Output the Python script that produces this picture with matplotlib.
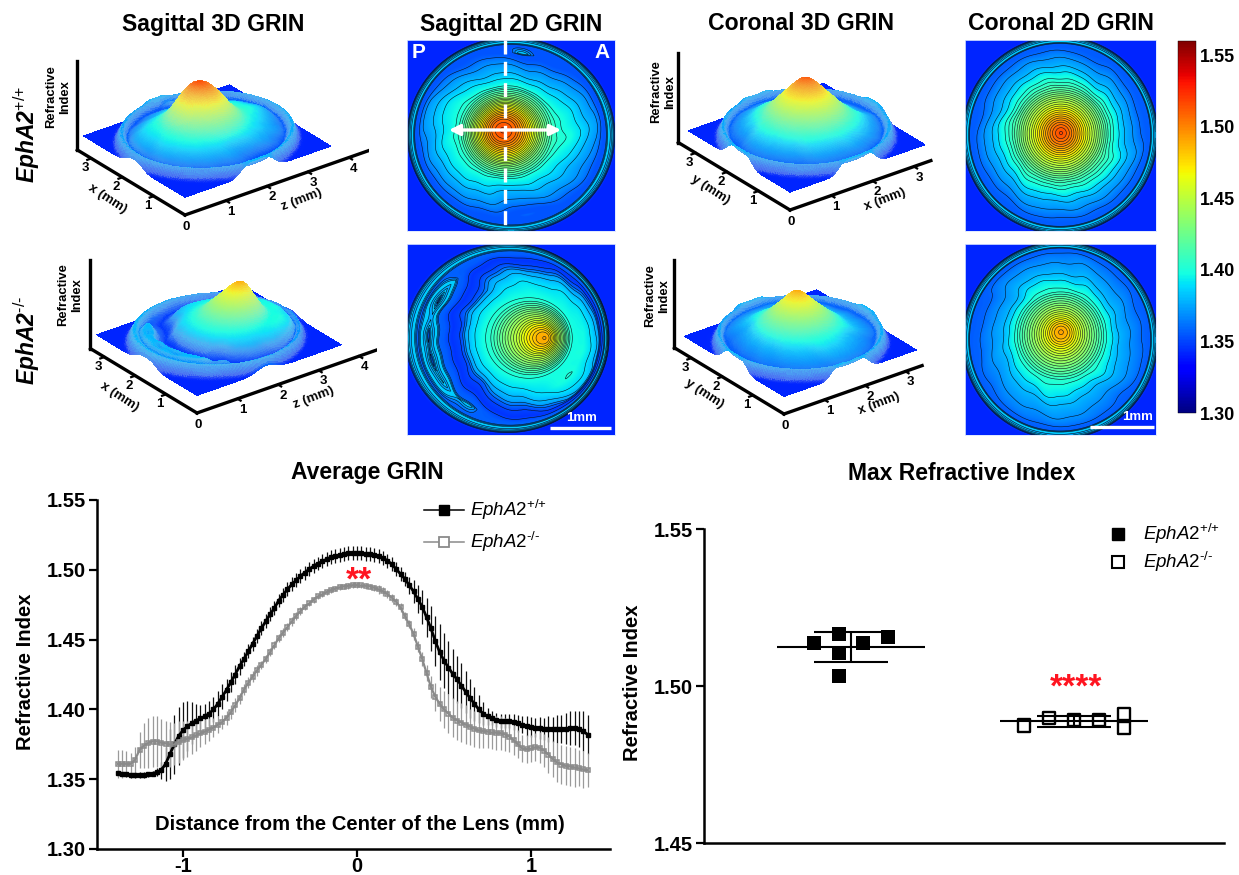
import numpy as np
import matplotlib
matplotlib.use("Agg")
import matplotlib.pyplot as plt
from matplotlib import cm, colors
from mpl_toolkits.mplot3d import proj3d

plt.rcParams['font.family'] = ['Liberation Sans', 'DejaVu Sans']
plt.rcParams['mathtext.fontset'] = 'custom'
plt.rcParams['mathtext.rm'] = 'Liberation Sans'
plt.rcParams['mathtext.it'] = 'Liberation Sans:italic'
plt.rcParams['mathtext.bf'] = 'Liberation Sans:bold'
plt.rcParams['mathtext.bfit'] = 'Liberation Sans:italic:bold'

W, H = 1239, 875

# ── average GRIN curves, one reading every 0.025 mm ───────────────────────
dist_start, dist_step = -1.375, 0.025
wt_mean = [1.3545, 1.354, 1.3535, 1.353, 1.353, 1.353, 1.3532, 1.3535, 1.354, 1.355, 1.3565, 1.361, 1.368, 1.375,
           1.381, 1.385, 1.388, 1.390, 1.392, 1.3935, 1.395, 1.397, 1.400, 1.404, 1.409, 1.414, 1.4195, 1.425,
           1.431, 1.436, 1.4415, 1.447, 1.4525, 1.458, 1.463, 1.468, 1.4725, 1.478, 1.482, 1.486, 1.4895, 1.4925,
           1.4955, 1.498, 1.5005, 1.5025, 1.5045, 1.506, 1.5075, 1.509, 1.5098, 1.5105, 1.5112, 1.5118, 1.512,
           1.512, 1.5119, 1.5115, 1.511, 1.5105, 1.5097, 1.5085, 1.5065, 1.504, 1.5005, 1.497, 1.4935, 1.489,
           1.4845, 1.479, 1.4735, 1.466, 1.458, 1.449, 1.441, 1.435, 1.430, 1.4255, 1.4215, 1.417, 1.4125, 1.408,
           1.404, 1.400, 1.397, 1.395, 1.3935, 1.3925, 1.392, 1.3918, 1.3915, 1.391, 1.390, 1.389, 1.3882, 1.3875,
           1.387, 1.3865, 1.386, 1.386, 1.3858, 1.3858, 1.386, 1.3862, 1.3866, 1.3866, 1.386, 1.3845, 1.382]
ko_mean = [1.361, 1.361, 1.361, 1.361, 1.364, 1.371, 1.374, 1.376, 1.377, 1.377, 1.376, 1.3755, 1.375, 1.375,
           1.3765, 1.378, 1.379, 1.380, 1.3815, 1.383, 1.384, 1.3855, 1.387, 1.389, 1.391, 1.394, 1.398, 1.403,
           1.408, 1.414, 1.419, 1.4235, 1.428, 1.432, 1.436, 1.441, 1.446, 1.451, 1.455, 1.459, 1.463, 1.467,
           1.4705, 1.4735, 1.476, 1.4785, 1.481, 1.4825, 1.484, 1.4855, 1.4865, 1.4875, 1.488, 1.4885, 1.489,
           1.489, 1.4888, 1.4885, 1.488, 1.487, 1.486, 1.4845, 1.4825, 1.480, 1.477, 1.473, 1.467, 1.461, 1.454,
           1.445, 1.436, 1.426, 1.416, 1.409, 1.404, 1.400, 1.397, 1.394, 1.392, 1.3905, 1.389, 1.3875, 1.386,
           1.385, 1.3845, 1.384, 1.3835, 1.3832, 1.383, 1.382, 1.3805, 1.378, 1.375, 1.372, 1.3715, 1.372, 1.373,
           1.3725, 1.3705, 1.3675, 1.3645, 1.362, 1.3605, 1.3595, 1.359, 1.3585, 1.3578, 1.357, 1.3565]
wt_sd = [.002, .002, .002, .002, .002, .002, .002, .002, .002, .003, .006, .012, .018, .021,
         .021, .020, .018, .015, .012, .010, .009, .009, .009, .009, .009, .008, .007, .007,
         .006, .005, .005, .005, .005, .005, .005, .005, .005, .005, .005, .005, .005, .005,
         .005, .005, .005, .005, .005, .005, .005, .005, .005, .005, .005, .005, .005,
         .005, .005, .005, .005, .005, .005, .005, .005, .005, .005, .005, .005, .006,
         .008, .010, .012, .014, .016, .018, .020, .020, .019, .018, .017, .016, .015, .014,
         .012, .010, .008, .006, .005, .005, .005, .005, .005, .006, .006, .006, .007, .007,
         .007, .008, .008, .009, .009, .010, .010, .011, .012, .012, .013, .014, .014]
ko_sd = [.010, .010, .009, .008, .009, .013, .016, .018, .018, .018, .017, .016, .016, .015,
         .015, .014, .013, .012, .011, .010, .009, .008, .007, .006, .005, .005, .005, .005,
         .004, .004, .004, .004, .004, .003, .003, .003, .003, .003, .003, .003, .003, .003,
         .003, .002, .002, .002, .002, .002, .002, .002, .002, .002, .002, .002, .002,
         .002, .002, .002, .002, .002, .003, .003, .003, .003, .003, .003, .003, .003, .004,
         .004, .005, .006, .008, .010, .012, .013, .014, .014, .014, .014, .014, .013, .013,
         .013, .012, .012, .012, .012, .012, .012, .011, .011, .010, .010, .010, .010, .010,
         .011, .012, .013, .013, .014, .014, .014, .014, .014, .013, .013, .012]

# ── max refractive index, animals offset sideways as in the plot ──────────
wt_offsets = [-0.168, -0.056, -0.056, -0.056, 0.056, 0.168]
wt_max = [1.5138, 1.5166, 1.5105, 1.5032, 1.5138, 1.5155]
wt_stats = [1.5124, 1.5075, 1.5172]   # mean, mean-sd, mean+sd
ko_offsets = [-0.224, -0.112, 0.0, 0.112, 0.224, 0.224]
ko_max = [1.4874, 1.4898, 1.4892, 1.4892, 1.4910, 1.4866]
ko_stats = [1.4889, 1.4871, 1.4906]

# ── lens maps: refractive index against normalised radius t ───────────────
# t=0 nucleus peak, t=1 capsule. Boxes are left, top, right, bottom in pixels.
sag_wt_box = [407, 40, 615, 231]
sag_wt_peak = [503, 130]
sag_wt_lens = [511, 135, 102, 96]
sag_wt_t = [0, .06, .12, .18, .24, .30, .36, .42, .48, .54, .60, .68, .76, .82, .86, .90, .935, .955, .97, .982, .995, 1.005, 1.02, 1.04]
sag_wt_n = [1.517, 1.513, 1.505, 1.490, 1.472, 1.452, 1.432, 1.416, 1.402, 1.395, 1.390, 1.380, 1.372, 1.365, 1.358, 1.354, 1.354, 1.384, 1.386, 1.372, 1.386, 1.375, 1.346, 1.342]
sag_wt_amp = [.01, .07, .02, .016, .012, .008, .006]
sag_wt_phase = [0.5, 3.14, 2.0, 1.0, 4.0, 2.5, 0.7]

sag_ko_box = [407, 244, 615, 435]
sag_ko_peak = [545, 338]
sag_ko_lens = [508, 338, 100, 93]
sag_ko_t = [0, .05, .10, .15, .20, .25, .30, .35, .40, .45, .60, .70, .74, .78, .84, .90, .935, .955, .97, .982, .995, 1.005, 1.02, 1.04]
sag_ko_n = [1.491, 1.488, 1.478, 1.466, 1.452, 1.440, 1.428, 1.415, 1.404, 1.398, 1.388, 1.375, 1.360, 1.350, 1.346, 1.356, 1.358, 1.384, 1.386, 1.372, 1.386, 1.375, 1.346, 1.342]
sag_ko_amp = [.16, .03, .02, .016, .012, .008, .006]
sag_ko_phase = [3.1, 1.4, 0.3, 2.2, 5.0, 1.5, 3.3]

cor_wt_box = [965, 40, 1156, 231]
cor_wt_peak = [1061, 133]
cor_wt_lens = [1060, 135, 96, 97]
cor_wt_t = [0, .05, .10, .15, .20, .25, .30, .35, .40, .45, .50, .55, .60, .66, .72, .80, .86, .91, .94, .955, .97, .982, .995, 1.005, 1.02, 1.04]
cor_wt_n = [1.517, 1.511, 1.503, 1.492, 1.480, 1.468, 1.456, 1.445, 1.433, 1.421, 1.410, 1.402, 1.396, 1.385, 1.376, 1.368, 1.360, 1.356, 1.356, 1.384, 1.386, 1.372, 1.386, 1.375, 1.346, 1.342]
cor_wt_amp = [.005, .012, .010, .010, .010, .007, .005]
cor_wt_phase = [1.0, 1.2, 0.4, 3.0, 2.0, 5.5, 1.1]

cor_ko_box = [965, 244, 1156, 435]
cor_ko_peak = [1061, 332]
cor_ko_lens = [1060, 340, 96, 97]
cor_ko_t = [0, .05, .10, .15, .20, .25, .30, .35, .40, .45, .50, .55, .60, .68, .76, .84, .90, .94, .955, .97, .982, .995, 1.005, 1.02, 1.04]
cor_ko_n = [1.492, 1.488, 1.479, 1.467, 1.456, 1.445, 1.435, 1.425, 1.415, 1.405, 1.398, 1.392, 1.383, 1.376, 1.370, 1.364, 1.358, 1.356, 1.384, 1.386, 1.372, 1.386, 1.375, 1.346, 1.342]
cor_ko_amp = [.01, .04, .012, .014, .012, .009, .007]
cor_ko_phase = [2.0, 0.0, 1.3, 4.0, 0.6, 3.0, 2.0]

wobble_orders = [1, 2, 3, 5, 7, 11, 17]
wobble_drift = [0, 0, 2, 5, 7, 9, 13]
wobble_t = [0, .45, .62, .85, .93]
wobble_gain = [0, 0, 1, 1, 0]
contour_low = [1.35, 1.36, 1.37, 1.38, 1.39]
contour_high = [1.40 + 0.005 * i for i in range(30)]

norm = colors.Normalize(1.30, 1.56)
jet = matplotlib.colormaps['jet']


def lens_field(px, py, peak, lens, t_nodes, n_nodes, amp, phase):
    # rings slide from the peak centre to the capsule centre as t grows
    dx = (px - peak[0]) / lens[2]
    dy = (py - peak[1]) / lens[3]
    cx = (lens[0] - peak[0]) / lens[2]
    cy = (lens[1] - peak[1]) / lens[3]
    dc = dx * cx + dy * cy
    c2 = cx * cx + cy * cy
    t = (-dc + np.sqrt(dc**2 + (1 - c2) * (dx**2 + dy**2))) / (1 - c2)
    theta = np.arctan2(dy - cy * t, dx - cx * t)
    wob = sum(a * np.cos(k * theta + p + d * t) for a, k, p, d in zip(amp, wobble_orders, phase, wobble_drift))
    t = t + np.interp(t, wobble_t, wobble_gain) * wob
    return np.interp(t, t_nodes, n_nodes)


def map_panel(fig, box, peak, lens, t_nodes, n_nodes, amp, phase):
    ax = fig.add_axes([box[0] / W, 1 - box[3] / H, (box[2] - box[0]) / W, (box[3] - box[1]) / H])
    xs = np.linspace(box[0], box[2], 500)
    ys = np.linspace(box[1], box[3], 500)
    px, py = np.meshgrid(xs, ys)
    n = lens_field(px, py, peak, lens, t_nodes, n_nodes, amp, phase)
    ax.imshow(n, extent=[box[0], box[2], box[3], box[1]], cmap=jet, norm=norm, aspect='auto', interpolation='bilinear')
    ax.contour(xs, ys, n, levels=contour_low + contour_high, colors='#06101c', linewidths=0.4)
    ax.set_xlim(box[0], box[2])
    ax.set_ylim(box[3], box[1])
    ax.set_xticks([])
    ax.set_yticks([])
    for s in ax.spines.values():
        s.set_color('#dbe6ff')
        s.set_linewidth(0.6)
    return ax


FLOOR, ROOF = 1.29, 1.551


def to_px(ax, x, y, z):
    xp, yp, _ = proj3d.proj_transform(x, y, z, ax.get_proj())
    a, b = ax.transData.transform((xp, yp))
    return a, H - b


def surface_panel(fig, origin, tick_far, tick_val, x_end, y_end, x_ticks, y_ticks):
    ax = fig.add_axes([0.2, 0.2, 0.3, 0.3 * W / H], projection='3d')
    ax.set_proj_type('ortho')
    ax.view_init(elev=27.4, azim=-127.3)
    ax.set_xlim(0, x_end)
    ax.set_ylim(0, y_end)
    ax.set_zlim(FLOOR, ROOF)
    ax.set_box_aspect((x_end, y_end, 1.95))
    ax.set_axis_off()
    ax.patch.set_alpha(0)
    # size and place the axes so the drawn axis lines land on the target pixels
    fig.canvas.draw()
    p0 = np.array(to_px(ax, 0, 0, FLOOR))
    p1 = np.array(to_px(ax, tick_val, 0, FLOOR))
    want = np.hypot(tick_far[0] - origin[0], tick_far[1] - origin[1])
    scale = want / np.hypot(*(p1 - p0))
    pos = ax.get_position()
    ax.set_position([pos.x0, pos.y0, pos.width * scale, pos.height * scale])
    fig.canvas.draw()
    p0 = np.array(to_px(ax, 0, 0, FLOOR))
    pos = ax.get_position()
    ax.set_position([pos.x0 + (origin[0] - p0[0]) / W, pos.y0 - (origin[1] - p0[1]) / H, pos.width, pos.height])
    fig.canvas.draw()

    ax.plot([0, x_end], [0, 0], [FLOOR, FLOOR], color='k', lw=2.4, zorder=20)
    ax.plot([0, 0], [0, y_end], [FLOOR, FLOOR], color='k', lw=2.4, zorder=20)
    ax.plot([0, 0], [y_end, y_end], [FLOOR, ROOF], color='k', lw=2.4, zorder=20)
    for v in x_ticks:
        ax.plot([v, v], [0, -0.1], [FLOOR, FLOOR], color='k', lw=1.6, zorder=20, clip_on=False)
    for v in y_ticks:
        ax.plot([0, -0.1], [v, v], [FLOOR, FLOOR], color='k', lw=1.6, zorder=20, clip_on=False)
    return ax


def add_surface(ax, box, plane, peak, lens, t_nodes, n_nodes, amp, phase):
    xs = np.linspace(0, plane[0], 130)
    ys = np.linspace(0, plane[1], 120)
    X, Y = np.meshgrid(xs, ys)
    px = box[0] + X / plane[0] * (box[2] - box[0])
    py = box[3] - Y / plane[1] * (box[3] - box[1])
    n = lens_field(px, py, peak, lens, t_nodes, n_nodes, amp, phase)
    # soften the map, the relief in the reference is less jagged than the contours
    for _ in range(6):
        n = (n + np.roll(n, 1, 0) + np.roll(n, -1, 0) + np.roll(n, 1, 1) + np.roll(n, -1, 1)) / 5
    gy, gx = np.gradient(n)
    pale = np.clip(np.hypot(gx, gy) * 70, 0, 0.35)[..., None]
    rgba = jet(norm(n))
    rgba[..., :3] = rgba[..., :3] * (1 - pale) + 0.85 * pale
    ax.plot_surface(X, Y, n, facecolors=rgba, rstride=1, cstride=1, linewidth=0, antialiased=False, shade=False)


fig = plt.figure(figsize=(W / 100, H / 100), dpi=100, facecolor='white')

# ── 2D maps ───────────────────────────────────────────────────────────────
map_panel(fig, sag_wt_box, sag_wt_peak, sag_wt_lens, sag_wt_t, sag_wt_n, sag_wt_amp, sag_wt_phase)
map_panel(fig, sag_ko_box, sag_ko_peak, sag_ko_lens, sag_ko_t, sag_ko_n, sag_ko_amp, sag_ko_phase)
map_panel(fig, cor_wt_box, cor_wt_peak, cor_wt_lens, cor_wt_t, cor_wt_n, cor_wt_amp, cor_wt_phase)
map_panel(fig, cor_ko_box, cor_ko_peak, cor_ko_lens, cor_ko_t, cor_ko_n, cor_ko_amp, cor_ko_phase)

# ── colour bar ────────────────────────────────────────────────────────────
cax = fig.add_axes([1178 / W, 1 - 413 / H, 18 / W, 372 / H])
cb = fig.colorbar(cm.ScalarMappable(norm=norm, cmap=jet), cax=cax)
cb.set_ticks([1.30, 1.35, 1.40, 1.45, 1.50, 1.55])
cb.set_ticklabels(['1.30', '1.35', '1.40', '1.45', '1.50', '1.55'], fontsize=13, fontweight='bold')
cax.tick_params(length=0, pad=3)
cb.outline.set_linewidth(0.3)

# ── 3D relief panels ──────────────────────────────────────────────────────
ax_a = surface_panel(fig, (185, 215), (348, 155), 4, 4.5, 3.45, [1, 2, 3, 4], [1, 2, 3])
ax_b = surface_panel(fig, (197, 413), (358, 353), 4, 4.45, 3.45, [1, 2, 3, 4], [1, 2, 3])
ax_c = surface_panel(fig, (790, 210), (913, 164), 3, 3.41, 3.55, [1, 2, 3], [1, 2, 3])
ax_d = surface_panel(fig, (784, 414), (905, 370), 3, 3.41, 3.55, [1, 2, 3], [1, 2, 3])

add_surface(ax_a, sag_wt_box, (3.56, 3.25), sag_wt_peak, sag_wt_lens, sag_wt_t, sag_wt_n, sag_wt_amp, sag_wt_phase)
add_surface(ax_b, sag_ko_box, (3.56, 3.25), sag_ko_peak, sag_ko_lens, sag_ko_t, sag_ko_n, sag_ko_amp, sag_ko_phase)
add_surface(ax_c, cor_wt_box, (3.27, 3.23), cor_wt_peak, cor_wt_lens, cor_wt_t, cor_wt_n, cor_wt_amp, cor_wt_phase)
add_surface(ax_d, cor_ko_box, (3.27, 3.23), cor_ko_peak, cor_ko_lens, cor_ko_t, cor_ko_n, cor_ko_amp, cor_ko_phase)

# ── average GRIN ──────────────────────────────────────────────────────────
ax1 = fig.add_axes([97 / W, 1 - 849 / H, (610 - 97) / W, (849 - 500) / H])
dist = dist_start + dist_step * np.arange(len(wt_mean))
ax1.errorbar(dist, wt_mean, yerr=wt_sd, fmt='none', ecolor='#111111', elinewidth=0.9)
ax1.errorbar(dist, ko_mean, yerr=ko_sd, fmt='none', ecolor='#9a9a9a', elinewidth=0.9)
ax1.plot(dist, wt_mean, '-s', color='black', lw=2.0, ms=3.2)
ax1.plot(dist, ko_mean, '-s', color='#8a8a8a', lw=1.6, ms=3.5, mfc='none', mew=1.1)
ax1.set_xlim((97 - 357) / 174, (610 - 357) / 174)
ax1.set_ylim(1.30, 1.55)
ax1.set_xticks([-1, 0, 1])
ax1.set_xticklabels(['-1', '0', '1'])
ax1.set_yticks([1.30, 1.35, 1.40, 1.45, 1.50, 1.55])
ax1.set_yticklabels(['1.30', '1.35', '1.40', '1.45', '1.50', '1.55'])

# ── max refractive index ──────────────────────────────────────────────────
ax2 = fig.add_axes([704 / W, 1 - 843 / H, (1224 - 704) / W, (843 - 529) / H])
ax2.scatter(wt_offsets, wt_max, marker='s', s=88, color='black', linewidths=0, zorder=3)
ax2.scatter(1 + np.array(ko_offsets), ko_max, marker='s', s=80, facecolors='none', edgecolors='black', linewidths=1.7, zorder=3)
for c, st in ((0, wt_stats), (1, ko_stats)):
    ax2.hlines(st[0], c - 0.332, c + 0.332, color='black', lw=1.5, zorder=4)
    ax2.hlines(st[1:], c - 0.166, c + 0.166, color='black', lw=1.5, zorder=4)
    ax2.vlines(c, st[1], st[2], color='black', lw=1.5, zorder=4)
ax2.set_xlim((704 - 851) / 223, (1224 - 851) / 223)
ax2.set_ylim(1.45, 1.55)
ax2.set_xticks([])
ax2.set_yticks([1.45, 1.50, 1.55])
ax2.set_yticklabels(['1.45', '1.50', '1.55'])

for ax in (ax1, ax2):
    ax.spines['top'].set_visible(False)
    ax.spines['right'].set_visible(False)
    ax.spines['left'].set_linewidth(1.8)
    ax.spines['bottom'].set_linewidth(1.8)
    ax.tick_params(width=1.6, length=6, labelsize=14.5, pad=2)
    ax.tick_params(axis='x', pad=0)
    for lab in ax.get_xticklabels() + ax.get_yticklabels():
        lab.set_fontweight('bold')
    ax.patch.set_alpha(0)

# ── everything else is placed on a pixel overlay ──────────────────────────
pix = fig.add_axes([0, 0, 1, 1], zorder=10)
pix.set_xlim(0, W)
pix.set_ylim(H, 0)
pix.axis('off')

for label, x in (('Sagittal 3D GRIN', 213), ('Sagittal 2D GRIN', 511), ('Coronal 3D GRIN', 801), ('Coronal 2D GRIN', 1061)):
    pix.text(x, 24, label, ha='center', va='center', fontsize=16.6, fontweight='bold')
pix.text(367, 473, 'Average GRIN', ha='center', va='center', fontsize=16.5, fontweight='bold')
pix.text(962, 473, 'Max Refractive Index', ha='center', va='center', fontsize=16.5, fontweight='bold')

pix.text(27, 135, r'$\mathbfit{EphA2}^{\text{+/+}}$', rotation=90, ha='center', va='center', fontsize=16.5)
pix.text(27, 340, r'$\mathbfit{EphA2}^{\text{-/-}}$', rotation=90, ha='center', va='center', fontsize=16.5)

# sagittal annotations
pix.plot([505, 505], [40, 231], color='white', lw=2.4, dashes=(4.2, 2.2))
pix.annotate('', xy=(449, 130), xytext=(561, 130), arrowprops=dict(arrowstyle='<|-|>', color='white', lw=2.4, mutation_scale=16, shrinkA=0, shrinkB=0))
pix.text(419, 53, 'P', color='white', fontsize=15, fontweight='bold', ha='center', va='center')
pix.text(602, 53, 'A', color='white', fontsize=15, fontweight='bold', ha='center', va='center')
pix.plot([550, 611], [428, 428], color='white', lw=2.4, solid_capstyle='butt')
pix.text(582, 418, '1mm', color='white', fontsize=9.5, fontweight='bold', ha='center', va='center')
pix.plot([1090, 1154], [427, 427], color='white', lw=2.4, solid_capstyle='butt')
pix.text(1138, 417, '1mm', color='white', fontsize=9.5, fontweight='bold', ha='center', va='center')

# 3D axis text
for ax3, second, x_ticks, x_lab, y_lab in ((ax_a, 'x (mm)', [1, 2, 3, 4], 'z (mm)', (-78, -16)),
                                           (ax_b, 'x (mm)', [1, 2, 3, 4], 'z (mm)', (-78, -16)),
                                           (ax_c, 'y (mm)', [1, 2, 3], 'x (mm)', (-80, -20)),
                                           (ax_d, 'y (mm)', [1, 2, 3], 'x (mm)', (-80, -20))):
    ox, oy = to_px(ax3, 0, 0, FLOOR)
    pix.text(ox + 1, oy + 12, '0', fontsize=9.5, fontweight='bold', ha='center', va='center')
    for v in x_ticks:
        a, b = to_px(ax3, v, 0, FLOOR)
        pix.text(a + 5, b + 11, str(v), fontsize=9.5, fontweight='bold', ha='center', va='center')
    for v in [1, 2, 3]:
        a, b = to_px(ax3, 0, v, FLOOR)
        pix.text(a - 6, b + 10, str(v), fontsize=9.5, fontweight='bold', ha='center', va='center')
    far = 117 if second == 'x (mm)' else 95
    pix.text(ox + far, oy - (15 if second == 'x (mm)' else 10), x_lab, rotation=21, fontsize=9.5, fontweight='bold', ha='center', va='center')
    pix.text(ox + y_lab[0], oy + y_lab[1], second, rotation=-33, fontsize=9.5, fontweight='bold', ha='center', va='center')
    pix.text(ox - 127, oy - 118, 'Refractive\nIndex', rotation=90, fontsize=9.4, fontweight='bold', ha='center', va='center', linespacing=1.2)

# chart text
pix.text(26, 672, 'Refractive Index', rotation=90, fontsize=14.6, fontweight='bold', ha='center', va='center')
pix.text(360, 825, 'Distance from the Center of the Lens (mm)', fontsize=14.6, fontweight='bold', ha='center', va='center')
pix.text(633, 683, 'Refractive Index', rotation=90, fontsize=14.6, fontweight='bold', ha='center', va='center')
pix.text(359, 581, '**', color='#ff1420', fontsize=24, fontweight='bold', ha='center', va='center')
pix.text(1076, 688, '****', color='#ff1420', fontsize=24, fontweight='bold', ha='center', va='center')

# legends
pix.plot([424, 464], [510, 510], color='black', lw=1.1)
pix.plot([444], [510], 's', color='black', ms=7.5)
pix.plot([424, 464], [542, 542], color='#8a8a8a', lw=1.1)
pix.plot([444], [542], 's', color='#8a8a8a', ms=7.5, mfc='white', mew=1.3)
pix.text(470, 510, r'$\mathit{EphA2}^{\text{+/+}}$', fontsize=13.5, va='center')
pix.text(470, 542, r'$\mathit{EphA2}^{\text{-/-}}$', fontsize=13.5, va='center')
pix.plot([1118], [534], 's', color='black', ms=9)
pix.plot([1118], [562], 's', mfc='white', mec='black', ms=9, mew=1.5)
pix.text(1143, 534, r'$\mathit{EphA2}^{\text{+/+}}$', fontsize=13.5, va='center')
pix.text(1143, 562, r'$\mathit{EphA2}^{\text{-/-}}$', fontsize=13.5, va='center')

fig.savefig('out.png', dpi=100)
